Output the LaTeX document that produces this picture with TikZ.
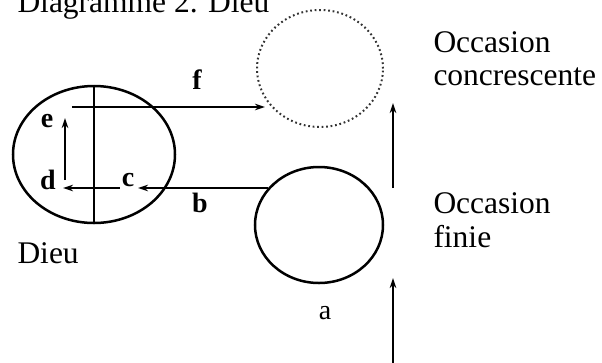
\documentclass[tikz,border=0pt]{standalone}
\usepackage{fontspec}
\setmainfont{Liberation Serif}
\usetikzlibrary{arrows.meta,positioning,shapes.geometric}
\tikzset{
  circ/.style={ellipse,draw,line width=1pt,inner sep=0pt},
  dotcirc/.style={ellipse,draw=black!80,line width=0.8pt,inner sep=0pt,
                  dash pattern=on 0.7pt off 1.1pt},
  txt/.style={font=\fontsize{12.6}{13.2}\selectfont,inner sep=0pt,align=left},
  lbl/.style={font=\fontsize{11.2}{12}\selectfont\bfseries,inner sep=0pt},
  arr/.style={-{Stealth[length=4pt,width=2.6pt]},line width=0.8pt},
}
\begin{document}
\begin{tikzpicture}[x=0.4pt,y=-0.4pt]
  \useasboundingbox (0,0) rectangle (602,362);
  % titles
  \node[txt,anchor=base west] (title) at (17,12) {Diagramme 2. Dieu};
  \node[txt,anchor=base west] (dieulbl) at (17,263) {Dieu};
  \node[txt,anchor=base west] (occc) at (433,52) {Occasion};
  \node[txt,anchor=base west] (occc2) at (433,85) {concrescente};
  \node[txt,anchor=base west] (occf) at (433,213) {Occasion};
  \node[txt,anchor=base west] (occf2) at (433,247) {finie};
  % the three circles
  \node[circ,minimum width=64.8pt,minimum height=54.8pt] (dieu) at (94,154.5) {};
  \node[dotcirc,minimum width=50.4pt,minimum height=46.8pt] (concr) at (320,68.5) {};
  \node[circ,minimum width=51.2pt,minimum height=46.4pt] (finie) at (319,225) {};
  \draw[line width=0.8pt] (dieu.north) -- (dieu.south);
  % letters
  \node[lbl] (f) at (197,80) {f};
  \node[lbl] (e) at (47,121) {e};
  \node[lbl] (d) at (48,180) {d};
  \node[lbl] (c) at (128,180) {c};
  \node[lbl] (b) at (200,203) {b};
  \node[font=\fontsize{11.2}{12}\selectfont,inner sep=0pt] (a) at (325,313) {a};
  % arrows
  \coordinate (f0) at (72,107);
  \coordinate (f1) at (265,107);
  \coordinate (b0) at (268,188);
  \coordinate (b1) at (138,188);
  \coordinate (c0) at (120,188);
  \coordinate (d1) at (63,188);
  \coordinate (e0) at (65,180);
  \coordinate (e1) at (65,118);
  \coordinate (up0) at (393,188);
  \coordinate (up1) at (393,103);
  \coordinate (lo0) at (393,366);
  \coordinate (lo1) at (393,278);
  \draw[arr] (f0) -- (f1);
  \draw[arr] (b0) -- (b1);
  \draw[arr] (c0) -- (d1);
  \draw[arr] (e0) -- (e1);
  \draw[arr] (up0) -- (up1);
  \draw[arr] (lo0) -- (lo1);
\end{tikzpicture}
\end{document}
